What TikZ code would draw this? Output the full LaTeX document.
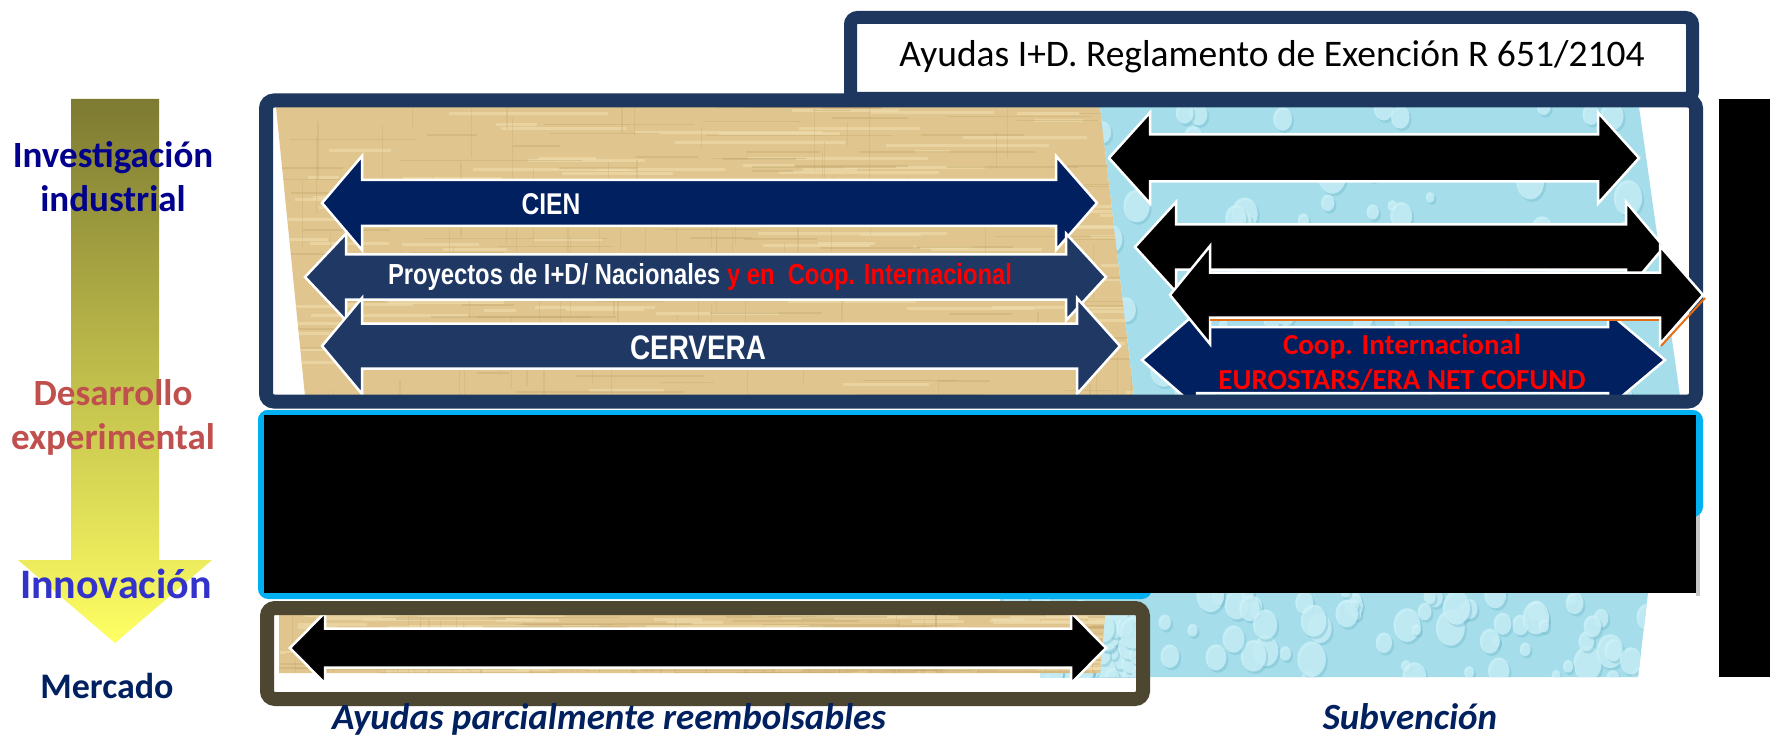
\documentclass[tikz,border=0pt]{standalone}
\usepackage{fontspec}
\setmainfont{Carlito}
\newfontfamily\narrowf[FakeStretch=0.82]{Liberation Sans}
\definecolor{navyA}{RGB}{0,32,96}
\definecolor{navyB}{RGB}{31,56,100}
\definecolor{frameN}{RGB}{30,55,95}
\definecolor{cyanF}{RGB}{0,176,240}
\definecolor{brownF}{RGB}{77,70,48}
\definecolor{arrTop}{RGB}{125,122,50}
\definecolor{arrBot}{RGB}{255,255,100}
\definecolor{invC}{RGB}{0,0,140}
\definecolor{desC}{RGB}{192,80,77}
\definecolor{innC}{RGB}{51,51,204}
\definecolor{merC}{RGB}{0,32,96}
\definecolor{pap}{RGB}{224,198,142}
\definecolor{papL}{RGB}{240,222,178}
\definecolor{papD}{RGB}{196,166,108}
\definecolor{wat}{RGB}{165,222,234}
\definecolor{watL}{RGB}{208,243,249}
\definecolor{watD}{RGB}{105,180,202}
\definecolor{orangeL}{RGB}{230,110,20}
\definecolor{redT}{RGB}{255,0,0}
\newcommand{\dblarrowshape}[8]{%
  \path[#1] (#2,#6) -- (#3,#6-#8) -- (#3,#6-#7) -- (#4,#6-#7) -- (#4,#6-#8) -- (#5,#6)
    -- (#4,#6+#8) -- (#4,#6+#7) -- (#3,#6+#7) -- (#3,#6+#8) -- cycle;}
\newcommand{\papyrustex}[4]{% xmin ymin xmax ymax
  \fill[pap] (#1,#2) rectangle (#3,#4);
  \foreach \k in {1,...,110}{
    \pgfmathsetmacro{\xa}{#1+(#3-#1)*rnd}
    \pgfmathsetmacro{\ya}{#2+(#4-#2)*rnd}
    \pgfmathsetmacro{\la}{30+160*rnd}
    \draw[papL, line width=3pt, opacity=0.55] (\xa,\ya) -- ++(\la,0);
  }
  \foreach \k in {1,...,110}{
    \pgfmathsetmacro{\xa}{#1+(#3-#1)*rnd}
    \pgfmathsetmacro{\ya}{#2+(#4-#2)*rnd}
    \pgfmathsetmacro{\la}{30+160*rnd}
    \draw[papD, line width=1.5pt, opacity=0.4] (\xa,\ya) -- ++(\la,0);
  }
  \foreach \k in {1,...,90}{
    \pgfmathsetmacro{\xa}{#1+(#3-#1)*rnd}
    \pgfmathsetmacro{\ya}{#2+(#4-#2)*rnd}
    \pgfmathsetmacro{\la}{20+60*rnd}
    \draw[papD, line width=1.2pt, opacity=0.3] (\xa,\ya) -- ++(0,\la);
  }}
\newcommand{\watertex}[4]{%
  \fill[wat] (#1,#2) rectangle (#3,#4);
  \foreach \k in {1,...,80}{
    \pgfmathsetmacro{\xa}{#1+(#3-#1)*rnd}
    \pgfmathsetmacro{\ya}{#2+(#4-#2)*rnd}
    \pgfmathsetmacro{\ra}{5+13*rnd}
    \fill[watD, opacity=0.35] (\xa+2,\ya+2.5) ellipse ({0.8*\ra} and \ra);
    \fill[watL, opacity=0.75] (\xa,\ya) ellipse ({0.8*\ra} and \ra);
  }}
\begin{document}
\begin{tikzpicture}[x=1pt,y=-1pt,
  arrw/.style={draw=white, line width=2.5pt, line join=miter},
  lbl/.style={font=\bfseries\fontsize{37}{44}\selectfont, align=center, inner sep=0pt},
  wtxt/.style={text=white, inner sep=0pt},
  btm/.style={font=\bfseries\itshape\fontsize{37}{44}\selectfont, text=merC, inner sep=0pt}]
\useasboundingbox (0,0) rectangle (1770,738);
\fill[white] (0,0) rectangle (1770,738);
\pgfmathsetseed{11}

% left gradient arrow
\shade[top color=arrTop, bottom color=arrBot]
  (71,99) -- (159,99) -- (159,560) -- (212,560) -- (115,643) -- (18,560) -- (71,560) -- cycle;
\node[lbl, text=invC] (inv) at (113,177) {Investigación\\industrial};
\node[lbl, text=desC] (des) at (113,417) {Desarrollo\\experimental};
\node[lbl, text=innC, font=\bfseries\fontsize{42}{50}\selectfont] (inn) at (116,584) {Innovación};
\node[lbl, text=merC, font=\bfseries\fontsize{36}{43}\selectfont] (mer) at (107,686) {Mercado};

% top title box
\draw[frameN, line width=13pt, fill=white, rounded corners=7pt] (850.5,17.5) rectangle (1692.5,98.5);
\node[font=\fontsize{37.5}{44}\selectfont, inner sep=0pt] (ayudas) at (1272,57) {Ayudas I+D. Reglamento de Exención R 651/2104};

% main box content
\fill[white] (266,100) rectangle (1696,401.5);
\begin{scope}
  \clip (276,107) -- (1100,107) -- (1134,396) -- (305,396) -- cycle;
  \papyrustex{270}{100}{1140}{400}
\end{scope}
\begin{scope}
  \clip (1100,107) -- (1639,107) -- (1680,396) -- (1134,396) -- cycle;
  \watertex{1090}{100}{1690}{400}
\end{scope}

\dblarrowshape{arrw, fill=navyA}{322}{362}{1056}{1097}{203}{23}{47}
\dblarrowshape{arrw, fill=navyB}{305}{346}{1066}{1106}{277}{22.5}{43.5}
\dblarrowshape{arrw, fill=navyB}{322}{362}{1077}{1120}{346}{22.5}{48}
\node[wtxt, font=\narrowf\bfseries\fontsize{30}{36}\selectfont] (cien) at (551,204) {CIEN};
\node[wtxt, font=\narrowf\bfseries\fontsize{29}{35}\selectfont] (proy) at (700,277)
  {Proyectos de I+D/ Nacionales \textcolor{redT}{y en\ \ Coop. Internacional}};
\node[wtxt, font=\narrowf\bfseries\fontsize{34}{40}\selectfont] (cervera) at (698,348) {CERVERA};

\begin{scope}
  \clip (273,107) rectangle (1689,395);
  \dblarrowshape{arrw, fill=navyA}{1142}{1197}{1608}{1665}{360}{33}{48}
\end{scope}
\dblarrowshape{arrw, fill=black}{1109}{1150}{1598}{1639}{158}{23.5}{45.5}
\dblarrowshape{arrw, fill=black}{1135}{1176}{1626}{1664}{247}{22.5}{45}
\node[font=\bfseries\fontsize{29}{35}\selectfont, text=redT, align=center, inner sep=0pt] (coop) at (1402,362)
  {Coop. Internacional\\EUROSTARS/ERA NET COFUND};

\draw[frameN, line width=14pt, rounded corners=8pt] (266,100.5) rectangle (1696,401.5);
\dblarrowshape{arrw, fill=black}{1170}{1210}{1660}{1703}{295}{22.5}{49}
\draw[orangeL, line width=2pt] (1210,320) -- (1659,320);
\draw[orangeL, line width=2pt] (1661,346) -- (1705,298);

% lower water (behind the blocks)
\begin{scope}
  \clip (1000,593) -- (1648,593) -- (1638,677) -- (1000,677) -- cycle;
  \watertex{995}{590}{1650}{680}
\end{scope}

% cyan framed black block
\fill[black!22] (1696,420) rectangle (1700,596);
\draw[cyanF, line width=7pt, rounded corners=7pt] (261.5,413.5) rectangle (1699.5,513.5);
\draw[cyanF, line width=7pt, rounded corners=7pt] (261.5,413.5) rectangle (1148.5,595.5);
\fill[black] (264,415) rectangle (1696,593);

% lower part
\fill[white] (274,615) rectangle (1136,691);
\begin{scope}
  \clip (1040,667) rectangle (1136,677);
  \watertex{1035}{660}{1140}{680}
\end{scope}
\begin{scope}
  \clip (1105,615) -- (1140,615) -- (1140,677) -- (1100,677) -- cycle;
  \watertex{1100}{610}{1145}{680}
\end{scope}
\begin{scope}
  \clip (279,615) -- (1105,615) -- (1100,673) -- (279,673) -- cycle;
  \papyrustex{275}{612}{1110}{676}
\end{scope}
\dblarrowshape{arrw, fill=black}{290}{325}{1071}{1106}{648}{19.5}{35.5}
\draw[brownF, line width=14pt, rounded corners=8pt] (267,608) rectangle (1143,699);

% right black bar
\fill[black] (1719,99) rectangle (1770,677);

% bottom labels
\node[btm] (reemb) at (609,719) {Ayudas parcialmente reembolsables};
\node[btm] (subv) at (1410,717) {Subvención};
\end{tikzpicture}
\end{document}
